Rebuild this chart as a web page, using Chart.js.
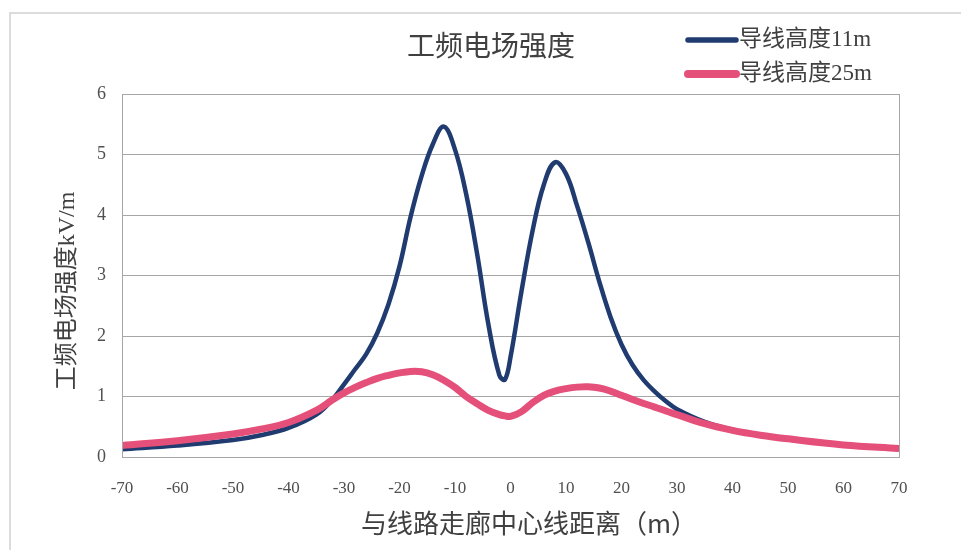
<!DOCTYPE html>
<html>
<head>
<meta charset="utf-8">
<script src="https://cdn.jsdelivr.net/npm/chart.js@4.4.1/dist/chart.umd.min.js"></script>
<style>
  html, body { margin: 0; padding: 0; background: #fff; }
  #wrap { position: relative; width: 961px; height: 550px; }
  #edge { position: absolute; left: 9px; top: 12px; right: -10px; bottom: -10px;
          border-left: 2px solid #dcdcdc; border-top: 2px solid #dcdcdc; pointer-events: none; }
</style>
</head>
<body>
<div id="wrap">
  <canvas id="chart-area" width="961" height="550"></canvas>
  <div id="edge"></div>
</div>
<script>
(function () {
  'use strict';

  // distance from corridor centre line (m)
  var distances = [-70, -60, -50, -45, -40, -35, -32, -30, -28, -26, -24, -22, -20, -18, -16, -14, -12,
                   -10, -8, -6, -4, -2, -1, 0, 2, 4, 6, 8, 10, 12, 14, 16, 18, 20, 22, 24, 26, 28, 30,
                   35, 40, 45, 50, 60, 70];
  // field strength kV/m, conductor height 11 m
  var field11 = [0.13, 0.19, 0.28, 0.36, 0.48, 0.7, 0.96, 1.2, 1.45, 1.7, 2.05, 2.52, 3.15, 3.97, 4.65, 5.17, 5.46,
                 5.08, 4.35, 3.35, 2.2, 1.35, 1.28, 1.65, 2.75, 3.75, 4.5, 4.87, 4.68, 4.15, 3.55, 2.9, 2.32, 1.86,
                 1.52, 1.27, 1.08, 0.92, 0.79, 0.58, 0.45, 0.36, 0.29, 0.2, 0.13];
  // field strength kV/m, conductor height 25 m
  var field25 = [0.19, 0.27, 0.38, 0.46, 0.57, 0.77, 0.95, 1.06, 1.15, 1.23, 1.3, 1.35, 1.39, 1.415, 1.41, 1.36, 1.27,
                 1.15, 1.0, 0.88, 0.77, 0.7, 0.68, 0.67, 0.75, 0.9, 1.02, 1.09, 1.13, 1.155, 1.16, 1.14, 1.09, 1.02,
                 0.95, 0.885, 0.825, 0.76, 0.7, 0.55, 0.44, 0.36, 0.3, 0.2, 0.14];
  var seriesNames = ['导线高度11m', '导线高度25m'];

  var chartTitle = '工频电场强度';
  var xTitle = '与线路走廊中心线距离（m）';
  var yTitle = '工频电场强度kV/m';

  var blue = '#1f3b70';
  var pink = '#e4507a';
  var textFont = "'Liberation Serif', 'Noto Sans CJK SC', serif";
  var cjkFont = "'Noto Sans CJK SC', sans-serif";

  function toPoints(values) {
    return values.map(function (v, i) { return { x: distances[i], y: v }; });
  }

  // titles, legend and plot frame
  var decorations = {
    id: 'decorations',
    afterDraw: function (chart) {
      var ctx = chart.ctx;
      var area = chart.chartArea;
      ctx.save();
      ctx.strokeStyle = '#a6a6a6';
      ctx.lineWidth = 1;
      ctx.strokeRect(Math.round(area.left) + 0.5, Math.round(area.top) + 0.5,
                     Math.round(area.width), Math.round(area.height));

      ctx.fillStyle = '#404040';
      ctx.textBaseline = 'middle';
      ctx.textAlign = 'center';
      ctx.font = '28px ' + cjkFont;
      ctx.fillText(chartTitle, 491, 45);

      ctx.font = '26px ' + cjkFont;
      ctx.fillText(xTitle, 529, 523);

      ctx.save();
      ctx.translate(68, 291);
      ctx.rotate(-Math.PI / 2);
      ctx.font = '24px ' + textFont;
      ctx.fillText(yTitle, 0, 0);
      ctx.restore();

      ctx.textAlign = 'left';
      ctx.font = '23px ' + textFont;
      chart.data.datasets.forEach(function (ds, i) {
        var y = 40 + i * 34;
        ctx.strokeStyle = ds.borderColor;
        ctx.lineWidth = ds.borderWidth + 1;
        ctx.lineCap = 'round';
        ctx.beginPath();
        ctx.moveTo(688, y);
        ctx.lineTo(736, y);
        ctx.stroke();
        ctx.fillText(ds.label, 739, y);
      });
      ctx.restore();
    }
  };

  var ctx = document.getElementById('chart-area').getContext('2d');
  window.fieldChart = new Chart(ctx, {
    type: 'line',
    data: {
      datasets: [
        {
          label: seriesNames[0],
          data: toPoints(field11),
          borderColor: blue,
          borderWidth: 4.5,
          order: 2
        },
        {
          label: seriesNames[1],
          data: toPoints(field25),
          borderColor: pink,
          borderWidth: 7,
          order: 1
        }
      ]
    },
    options: {
      responsive: false,
      animation: false,
      layout: { padding: { top: 94, right: 62, bottom: 0, left: 0 } },
      elements: {
        point: { radius: 0 },
        line: { tension: 0.4, fill: false }
      },
      plugins: {
        legend: { display: false },
        title: { display: false },
        tooltip: { enabled: false }
      },
      scales: {
        x: {
          type: 'linear',
          min: -70,
          max: 70,
          afterFit: function (scale) { scale.height = 93; },
          grid: { display: false, drawTicks: false },
          border: { display: true, color: '#a6a6a6' },
          ticks: {
            stepSize: 10,
            padding: 21,
            color: '#505050',
            font: { family: textFont, size: 17 }
          }
        },
        y: {
          min: 0,
          max: 6,
          afterFit: function (scale) { scale.width = 122; },
          grid: { color: '#a6a6a6', drawTicks: false },
          border: { display: true, color: '#a6a6a6' },
          ticks: {
            stepSize: 1,
            padding: 16,
            color: '#505050',
            font: { family: textFont, size: 18 }
          }
        }
      }
    },
    plugins: [decorations]
  });
})();
</script>
</body>
</html>
